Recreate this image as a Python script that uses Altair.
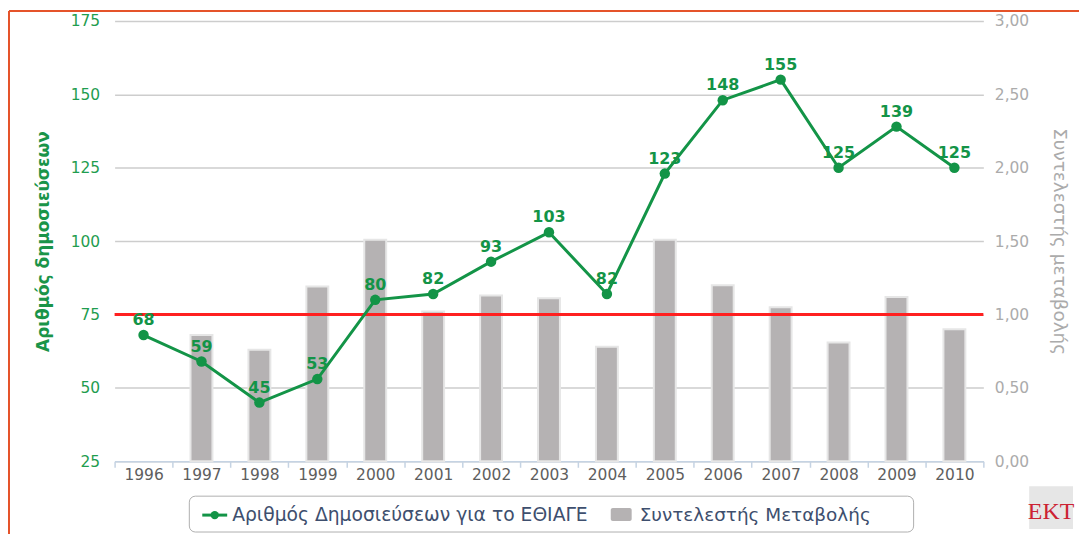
import altair as alt
import pandas as pd

# ---- data ----
years = ["1996", "1997", "1998", "1999", "2000", "2001", "2002", "2003",
         "2004", "2005", "2006", "2007", "2008", "2009", "2010"]
pubs = [68, 59, 45, 53, 80, 82, 93, 103, 82, 123, 148, 155, 125, 139, 125]
coef = [None, 0.86, 0.76, 1.19, 1.51, 1.02, 1.13, 1.11, 0.78, 1.51, 1.20, 1.05, 0.81, 1.12, 0.90]
left_ticks = [25, 50, 75, 100, 125, 150, 175]
right_ticks = [0, 0.5, 1.0, 1.5, 2.0, 2.5, 3.0]
threshold = [75]
series_names = ["Αριθμός Δημοσιεύσεων για το ΕΘΙΑΓΕ", "Συντελεστής Μεταβολής"]
left_title = "Αριθμός δημοσιεύσεων"
right_title = "Συντελεστής μεταβολής"
logo_text = "EKT"

df = pd.DataFrame({"year": years, "pubs": pubs, "coef": coef})
one = pd.DataFrame({"k": [0]})

W, H = 872, 442
GREEN = "#139447"
BAR = "#b5b2b3"

x_enc = alt.X(
    "year:N", sort=years,
    scale=alt.Scale(paddingInner=0, paddingOuter=0),
    axis=alt.Axis(title=None, labelAngle=0, labelFontSize=15.5, labelColor="#5e5e5e",
                  tickBand="extent", tickSize=6, tickColor="#c5d3e3", tickWidth=1.5,
                  domainColor="#c5d3e3", domainWidth=1.5, labelPadding=0, grid=False),
)

y_left = alt.Y(
    "pubs:Q",
    scale=alt.Scale(domain=[25, 175], nice=False, zero=False),
    axis=alt.Axis(orient="left", values=left_ticks, grid=True, gridColor="#cdcdcd",
                  gridWidth=1.5, ticks=False, domain=False, labelColor="#1f9d4f",
                  labelFontSize=15.5, labelPadding=15, title=left_title,
                  titleColor="#1a9449", titleFontSize=17, titleFontWeight="bold",
                  titleAngle=-90, titleX=-71, titleY=H / 2, titleBaseline="middle",
                  titleAlign="center"),
)

y_right = alt.Y(
    "coef:Q",
    scale=alt.Scale(domain=[0, 3], nice=False),
    axis=alt.Axis(orient="right", values=right_ticks,
                  labelExpr="replace(format(datum.value, '.2f'), '.', ',')",
                  grid=False, ticks=False, domain=False, labelColor="#ababab",
                  labelFontSize=15.5, labelPadding=11, title=right_title,
                  titleColor="#ababab", titleFontSize=18.5, titleFontWeight="normal",
                  titleAngle=90, titleX=76, titleY=H / 2, titleBaseline="middle",
                  titleAlign="center"),
)

bars = alt.Chart(df).transform_filter("isValid(datum.coef)").mark_bar(
    size=22, color=BAR, stroke="#e6e6e6", strokeWidth=2
).encode(x=x_enc, y=y_right)

rule = alt.Chart(pd.DataFrame({"pubs": threshold})).mark_rule(
    color="#ff2020", strokeWidth=3
).encode(y=y_left)

base = alt.Chart(df).encode(x=x_enc, y=y_left)
line = base.mark_line(color=GREEN, strokeWidth=3)
pts = base.mark_point(filled=True, size=110, color=GREEN, opacity=1)
labels = base.mark_text(fontSize=16, fontWeight="bold", color=GREEN, dy=-10,
                        baseline="alphabetic").encode(text="pubs:Q")

line_layer = alt.layer(rule, line, pts, labels)

main = alt.layer(bars, line_layer).resolve_scale(y="independent")

# ---- decorations: border, legend box, logo ----
V = alt.value
ORANGE = "#e5532a"
border_top = alt.Chart(one).mark_rule(color=ORANGE, strokeWidth=2).encode(
    x=V(-106), x2=V(980), y=V(-10))
border_left = alt.Chart(one).mark_rule(color=ORANGE, strokeWidth=2).encode(
    x=V(-106), y=V(-10), y2=V(520))

leg_box = alt.Chart(one).mark_rect(fill="white", stroke="#b0b0b0", strokeWidth=1,
                                   cornerRadius=6).encode(
    x=V(75), x2=V(802), y=V(477), y2=V(513))
leg_line = alt.Chart(one).mark_rule(color=GREEN, strokeWidth=3).encode(
    x=V(88), x2=V(113), y=V(496))
leg_dot = alt.Chart(one).mark_point(filled=True, size=70, color=GREEN, opacity=1).encode(
    x=V(100.5), y=V(496))
leg_t1 = alt.Chart(one).mark_text(align="left", baseline="middle", fontSize=18.8,
                                  color="#3e4f6e").encode(
    x=V(118), y=V(496), text=V(series_names[0]))
leg_sq = alt.Chart(one).mark_rect(fill=BAR, cornerRadius=2).encode(
    x=V(498), x2=V(519), y=V(489), y2=V(502))
leg_t2 = alt.Chart(one).mark_text(align="left", baseline="middle", fontSize=18.5,
                                  color="#3e4f6e").encode(
    x=V(527), y=V(496), text=V(series_names[1]))

logo_bg = alt.Chart(one).mark_rect(fill="#e6e6e6").encode(
    x=V(918), x2=V(962), y=V(467), y2=V(510))
logo_t = alt.Chart(one).mark_text(align="center", baseline="alphabetic", fontSize=24,
                                  font="Liberation Serif", color="#cc2233").encode(
    x=V(940), y=V(500), text=V(logo_text))

chart = alt.layer(
    main, border_top, border_left, leg_box, leg_line, leg_dot, leg_t1, leg_sq, leg_t2,
    logo_bg, logo_t
).properties(
    width=W, height=H,
    padding={"left": 107, "top": 12, "right": 96, "bottom": 72},
    autosize=alt.AutoSizeParams(type="none"),
    background="white",
    view=alt.ViewBackground(stroke="transparent"),
).configure_view(stroke="transparent", strokeWidth=0
).configure_axisY(domain=False, domainOpacity=0, tickOpacity=0
).configure_axisX(grid=False, gridOpacity=0
).configure(font="DejaVu Sans")

chart.save("out.html", embed_options={"renderer": "svg", "actions": False})
